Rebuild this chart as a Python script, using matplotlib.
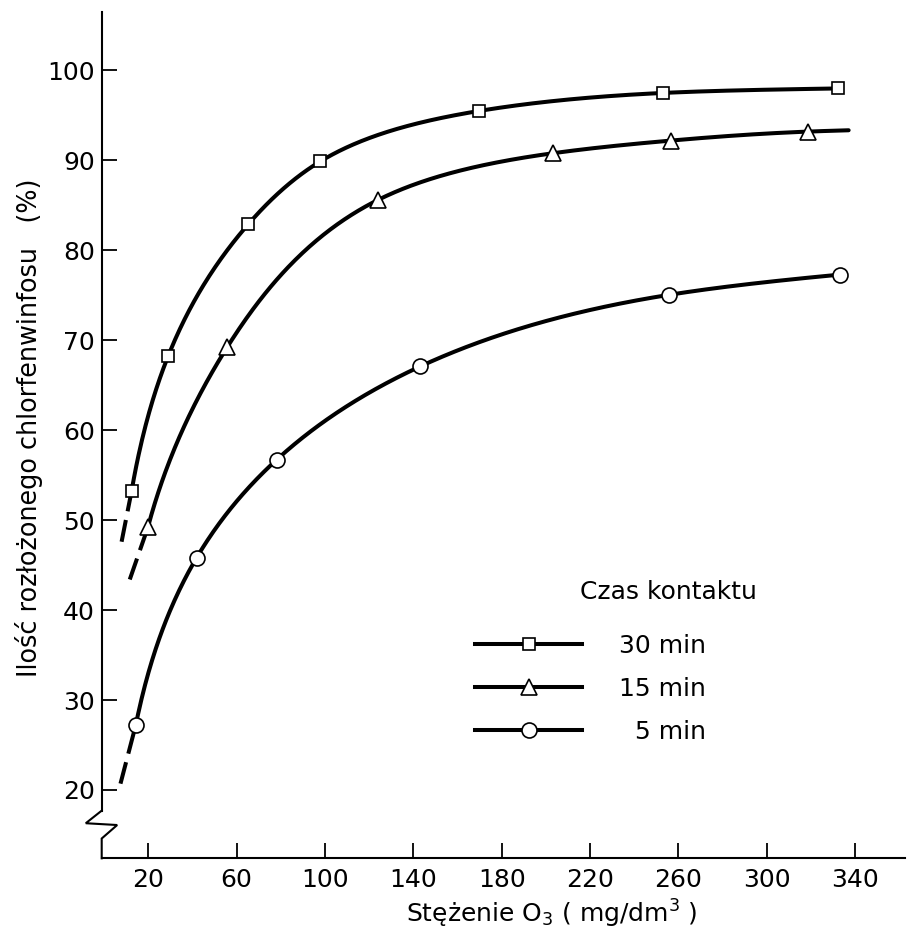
import numpy as np
import matplotlib
matplotlib.use("Agg")
import matplotlib.pyplot as plt
from matplotlib.lines import Line2D

# ---- data ----
x30 = [12.5, 29, 65.3, 98, 169.8, 253, 332.2]
y30 = [53.2, 68.2, 82.9, 89.9, 95.5, 97.5, 98.0]
x15 = [19.9, 55.7, 124, 203.3, 256.4, 318.4]
y15 = [49.2, 69.2, 85.6, 90.8, 92.2, 93.2]
x15_tail = [337.0]
y15_tail = [93.35]
x5 = [14.4, 41.9, 78.1, 143.2, 255.7, 333]
y5 = [27.2, 45.8, 56.7, 67.1, 75.05, 77.3]
# dashed extrapolation (lower ends)
ext_x = {"30": 8.0, "15": 11.7, "5": 7.5}
ext_y = {"30": 47.6, "15": 43.4, "5": 20.7}

labels = ["30 min", "15 min", "  5 min"]
xticks = [20, 60, 100, 140, 180, 220, 260, 300, 340]
yticks = [20, 30, 40, 50, 60, 70, 80, 90, 100]


def natural_spline(x, y, xs):
    x = np.asarray(x, float); y = np.asarray(y, float)
    n = len(x); h = np.diff(x)
    A = np.zeros((n, n)); b = np.zeros(n)
    A[0, 0] = 1; A[-1, -1] = 1
    for i in range(1, n - 1):
        A[i, i - 1] = h[i - 1]; A[i, i] = 2 * (h[i - 1] + h[i]); A[i, i + 1] = h[i]
        b[i] = 6 * ((y[i + 1] - y[i]) / h[i] - (y[i] - y[i - 1]) / h[i - 1])
    M = np.linalg.solve(A, b)
    idx = np.clip(np.searchsorted(x, xs) - 1, 0, n - 2)
    xi, xj = x[idx], x[idx + 1]; hi = h[idx]
    return (M[idx] * (xj - xs)**3 / (6 * hi) + M[idx + 1] * (xs - xi)**3 / (6 * hi)
            + (y[idx] / hi - M[idx] * hi / 6) * (xj - xs)
            + (y[idx + 1] / hi - M[idx + 1] * hi / 6) * (xs - xi))


def smooth_curve(x, y, xs):
    # spline drawn in log-x space, which keeps these saturating curves free of wiggles
    return natural_spline(np.log(x), y, np.log(xs))


W, H = 910, 934
fig = plt.figure(figsize=(W / 100, H / 100), dpi=100)
plt.rcParams['font.family'] = ['DejaVu Sans']
left_px, right_px, top_px, bot_px = 101.7, 905, 12, 858.3
ax = fig.add_axes([left_px / W, 1 - bot_px / H, (right_px - left_px) / W, (bot_px - top_px) / H])
ax.set_xlim(-1, 362.5)
ax.set_ylim(12.4, 106.5)

lw = 2.9
mk = dict(markerfacecolor='white', markeredgecolor='black', markeredgewidth=1.2, color='black', zorder=3)

series = [
    ("30", x30, y30, [], [], 's', 8.4),
    ("15", x15, y15, x15_tail, y15_tail, '^', 11),
    ("5", x5, y5, [], [], 'o', 10.8),
]
handles = []
for key, xs, ys, tx, ty, m, ms in series:
    cx = list(xs) + list(tx); cy = list(ys) + list(ty)
    xx = np.linspace(cx[0], cx[-1], 600)
    ax.plot(xx, smooth_curve(cx, cy, xx), color='black', lw=lw, solid_capstyle='round', zorder=2)
    # dashed extrapolation below the first point
    ax.plot([ext_x[key], xs[0]], [ext_y[key], ys[0]], color='black', lw=lw,
            linestyle=(0, (5.5, 2.2)), dash_capstyle='butt', zorder=2)
    ax.plot(xs, ys, linestyle='none', marker=m, markersize=ms, **mk)
    handles.append(Line2D([], [], color='black', lw=lw, marker=m, markersize=ms,
                          markerfacecolor='white', markeredgecolor='black', markeredgewidth=1.2))

# spines
for s in ['top', 'right', 'left']:
    ax.spines[s].set_visible(False)
ax.spines['bottom'].set_linewidth(1.5)

# left axis with break (zigzag)
ybr_top, ybr_bot = 17.7, 14.6
ax.plot([-1, -1], [106.5, ybr_top], color='black', lw=1.5, clip_on=False, zorder=4)
ax.plot([-1, -8.2, 6.0, -1, -1], [ybr_top, 16.3, 16.1, ybr_bot, 12.4], color='black', lw=1.5,
        clip_on=False, zorder=4, solid_joinstyle='miter')

ax.set_xticks(xticks)
ax.set_yticks(yticks)
ax.tick_params(axis='both', direction='in', length=11, width=1.3, labelsize=18, colors='black')
ax.tick_params(axis='y', pad=4.8)
ax.tick_params(axis='x', pad=7)

ax.set_xlabel(r"Stężenie O$_3$ ( mg/dm$^3$ )", fontsize=18, va='top')
ax.xaxis.set_label_coords(0.5606, -0.047)
ax.set_ylabel("Ilość rozłożonego chlorfenwinfosu   (%)", fontsize=18.4, va='center')
ax.yaxis.set_label_coords(-0.09, 0.509)

leg = ax.legend(handles, labels, loc='upper left', bbox_to_anchor=(0.4647, 0.265),
                frameon=False, fontsize=18, handlelength=4.3, handletextpad=1.45,
                labelspacing=0.75, borderpad=0, borderaxespad=0, numpoints=1)
ax.text(0.5954, 0.3147, "Czas kontaktu", transform=ax.transAxes, fontsize=18,
        ha='left', va='center')

fig.savefig("out.png", dpi=100, facecolor='white')
